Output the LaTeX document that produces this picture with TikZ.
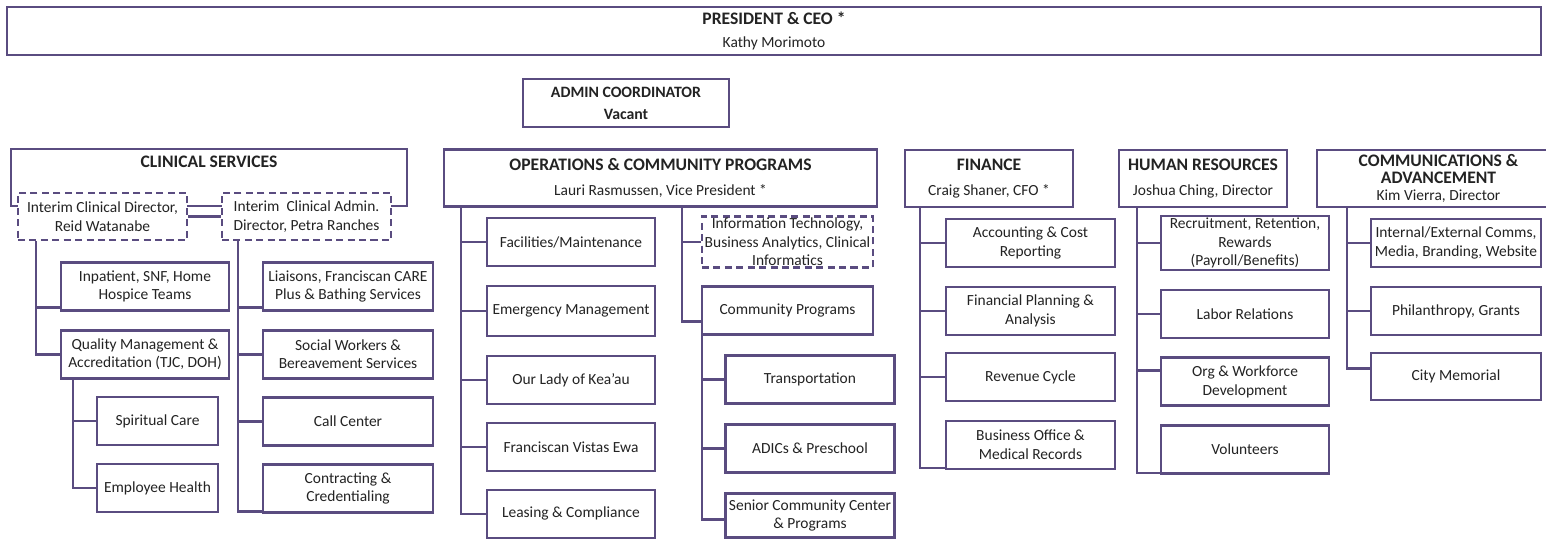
\documentclass[tikz,border=0pt]{standalone}
\usepackage{fontspec}
\setmainfont{Carlito}
\usetikzlibrary{positioning, calc}

\definecolor{frame}{RGB}{90,76,128}
\definecolor{ink}{RGB}{35,35,35}
\newcommand{\ttl}[1]{{\fontsize{10}{10}\selectfont\bfseries #1}}

\begin{document}
\begin{tikzpicture}[x=0.02cm, y=-0.02cm, node distance=0.35cm,
    unit/.style={draw=frame, line width=1.4pt, fill=white, text=ink, align=center,
                 inner sep=1pt, minimum width=3.38cm, minimum height=0.96cm,
                 font=\fontsize{8.8}{10.5}\selectfont},
    head/.style={unit, minimum height=1.14cm},
    acting/.style={unit, dash pattern=on 4pt off 2.5pt},
    link/.style={draw=frame, line width=1.4pt}]

    % page frame
    \clip (0,0) rectangle (1546,540);
    \fill[white] (0,0) rectangle (1546,540);

    %--- top level ---
    \node[unit, minimum width=30.68cm] (pres) at (774,31)
        {\ttl{PRESIDENT \& CEO *}\\[2.5pt] Kathy Morimoto};
    \node[unit, minimum width=4.12cm, font=\fontsize{9}{10}\selectfont\bfseries] (admin) at (626,103)
        {ADMIN COORDINATOR\\[2.5pt] Vacant};

    %--- division heads ---
    \node[head, minimum width=7.92cm] (clin) at (209,177.5) {\ttl{CLINICAL SERVICES}\\[4pt]\strut};
    \node[head, minimum width=8.66cm] (ops)  at (660.5,178) {\ttl{OPERATIONS \& COMMUNITY PROGRAMS}\\[4pt] Lauri Rasmussen, Vice President *};
    \node[head, minimum width=3.36cm] (fin)  at (989,178.5) {\ttl{FINANCE}\\[4pt] Craig Shaner, CFO *};
    \node[head, minimum width=3.36cm] (hr)   at (1203,178.5) {\ttl{HUMAN RESOURCES}\\[4pt] Joshua Ching, Director};
    \node[head, minimum width=4.86cm] (comm) at (1438.5,178.5)
        {\ttl{COMMUNICATIONS \&}\\[-1pt]\ttl{ADVANCEMENT}\\[-1pt] Kim Vierra, Director};

    %--- clinical services ---
    \node[acting, minimum height=0.94cm] (dirL) at (102.5,216.5) {Interim Clinical Director,\\Reid Watanabe};
    \node[acting, minimum height=0.94cm] (dirR) at (306.5,216.5) {Interim~ Clinical Admin.\\Director, Petra Ranches};
    \node[unit, minimum width=3.36cm] (inpat) at (145,286.5) {Inpatient, SNF, Home\\Hospice Teams};
    \node[unit, minimum width=3.36cm, below=of inpat] (qual) {Quality Management \&\\Accreditation (TJC, DOH)};
    \node[unit, minimum width=2.42cm] (spirit) at (157.5,421) {Spiritual Care};
    \node[unit, minimum width=2.42cm, below=0.33cm of spirit] (emp) {Employee Health};
    \node[unit, minimum width=3.4cm] (liais) at (348,286.5) {Liaisons, Franciscan CARE\\Plus \& Bathing Services};
    \node[unit, minimum width=3.4cm, below=of liais] (social) {Social Workers \&\\Bereavement Services};
    \node[unit, minimum width=3.4cm, below=0.33cm of social] (call) {Call Center};
    \node[unit, minimum width=3.4cm, below=0.33cm of call] (contr) {Contracting \&\\Credentialing};

    %--- operations & community programs ---
    \node[unit, minimum width=3.36cm] (facil) at (571,242) {Facilities/Maintenance};
    \node[unit, minimum width=3.36cm, minimum height=1cm, below=of facil] (emerg) {Emergency Management};
    \node[unit, minimum width=3.36cm, below=of emerg] (lady) {Our Lady of Kea'au};
    \node[unit, minimum width=3.36cm, below=0.33cm of lady] (vistas) {Franciscan Vistas Ewa};
    \node[unit, minimum width=3.36cm, below=0.33cm of vistas] (lease) {Leasing \& Compliance};
    \node[acting, minimum width=3.42cm] (itbox) at (787.5,242)
        {Information Technology,\\Business Analytics, Clinical\\Informatics};
    \node[unit, minimum width=3.42cm] (cprog) at (787.5,310.5) {Community Programs};
    \node[unit] (transp) at (810,379.5) {Transportation};
    \node[unit, below=0.37cm of transp] (adics) {ADICs \& Preschool};
    \node[unit, minimum height=0.88cm, below=0.37cm of adics] (senior) {Senior Community Center\\\& Programs};

    %--- finance ---
    \node[unit] (acct) at (1030.5,243) {Accounting \& Cost\\Reporting};
    \node[unit, below=of acct] (plan) {Financial Planning \&\\Analysis};
    \node[unit, below=0.31cm of plan] (rev) {Revenue Cycle};
    \node[unit, below=of rev] (bus) {Business Office \&\\Medical Records};

    %--- human resources ---
    \node[unit, minimum width=3.36cm] (recr) at (1245,243) {Recruitment, Retention,\\Rewards\\(Payroll/Benefits)};
    \node[unit, minimum width=3.36cm, below=of recr] (labor) {Labor Relations};
    \node[unit, minimum width=3.36cm, below=of labor] (orgwf) {Org \& Workforce\\Development};
    \node[unit, minimum width=3.36cm, below=of orgwf] (volun) {Volunteers};

    %--- communications & advancement ---
    \node[unit, minimum width=3.4cm] (intext) at (1456,243) {Internal/External Comms,\\Media, Branding, Website};
    \node[unit, minimum width=3.4cm, below=of intext] (phil) {Philanthropy, Grants};
    \node[unit, minimum width=3.4cm, minimum height=0.94cm, below=0.31cm of phil] (city) {City Memorial};

    %--- connectors ---
    \draw[link] (dirL.east) -- (dirR.west);
    \draw[link] ($(dirL.south west)+(19,0)$) |- ($(inpat.south west)+(0,-4)$);
    \draw[link] ($(dirL.south west)+(19,0)$) |- (qual.west);
    \draw[link] ($(qual.south west)+(13,0)$) |- (spirit.west);
    \draw[link] ($(qual.south west)+(13,0)$) |- (emp.west);
    \draw[link] ($(dirR.south west)+(17,0)$) |- ($(liais.south west)+(0,-4)$);
    \draw[link] ($(dirR.south west)+(17,0)$) |- (social.west);
    \draw[link] ($(dirR.south west)+(17,0)$) |- (call.west);
    \draw[link] ($(dirR.south west)+(17,0)$) |- ($(contr.south west)+(0,-2)$);

    \draw[link] ($(ops.south west)+(18,0)$) |- (facil.west);
    \draw[link] ($(ops.south west)+(18,0)$) |- (emerg.west);
    \draw[link] ($(ops.south west)+(18,0)$) |- (lady.west);
    \draw[link] ($(ops.south west)+(18,0)$) |- (vistas.west);
    \draw[link] ($(ops.south west)+(18,0)$) |- (lease.west);
    \draw[link] ($(ops.south)+(21.5,0)$) |- (itbox.west);
    \draw[link] ($(ops.south)+(21.5,0)$) |- ($(cprog.south west)+(0,-14)$);
    \draw[link] ($(cprog.south west)+(1,0)$) |- (transp.west);
    \draw[link] ($(cprog.south west)+(1,0)$) |- (adics.west);
    \draw[link] ($(cprog.south west)+(1,0)$) |- ($(senior.west)+(0,4)$);

    \draw[link] ($(fin.south west)+(16,0)$) |- (acct.west);
    \draw[link] ($(fin.south west)+(16,0)$) |- (plan.west);
    \draw[link] ($(fin.south west)+(16,0)$) |- (rev.west);
    \draw[link] ($(fin.south west)+(16,0)$) |- ($(bus.south west)+(0,-2)$);

    \draw[link] ($(hr.south west)+(19,0)$) |- (recr.west);
    \draw[link] ($(hr.south west)+(19,0)$) |- (labor.west);
    \draw[link] ($(hr.south west)+(19,0)$) |- ($(orgwf.west)+(0,-11)$);
    \draw[link] ($(hr.south west)+(19,0)$) |- ($(volun.south west)+(0,-2)$);

    \draw[link] ($(comm.south west)+(31,0)$) |- (intext.west);
    \draw[link] ($(comm.south west)+(31,0)$) |- (phil.west);
    \draw[link] ($(comm.south west)+(31,0)$) |- ($(city.west)+(0,-8)$);
\end{tikzpicture}
\end{document}
